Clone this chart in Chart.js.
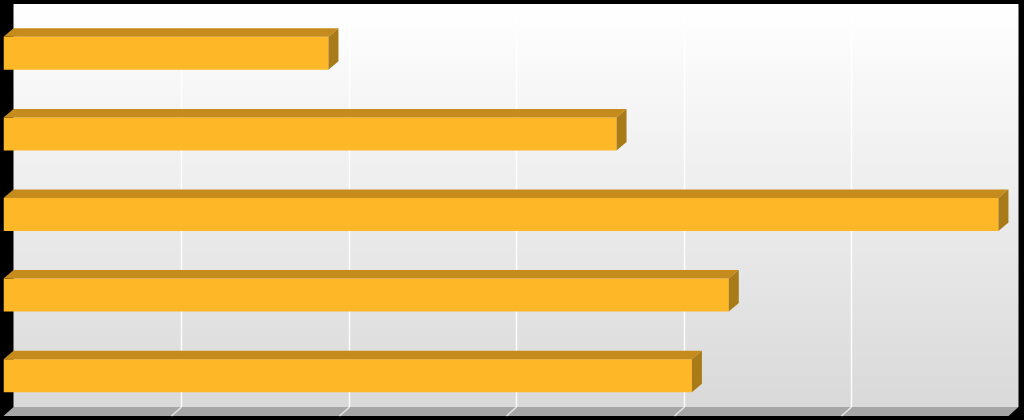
<!DOCTYPE html>
<html>
<head>
<meta charset="utf-8">
<script src="https://cdn.jsdelivr.net/npm/chart.js@4/dist/chart.umd.min.js"></script>
<style>
  html, body { margin: 0; padding: 0; background: #000; }
  canvas { display: block; }
</style>
</head>
<body>
<canvas id="barChart" width="1024" height="420"></canvas>
<script>
// ---- Data ----
const categories = ['1', '2', '3', '4', '5'];
const values = [1.94, 3.66, 5.94, 4.33, 4.11];
const xTicks = [0, 1, 2, 3, 4, 5, 6];

// ---- 3D look: depth offset of the back wall ----
const DX = 10, DY = 9;

const room3d = {
  id: 'room3d',
  beforeDraw(chart) {
    const { ctx, chartArea: a, scales: { x } } = chart;
    const w = a.right - a.left, h = a.bottom - a.top;
    ctx.save();

    // back wall
    const g = ctx.createLinearGradient(0, a.top - DY, 0, a.bottom - DY);
    g.addColorStop(0, '#ffffff');
    g.addColorStop(1, '#d9d9d9');
    ctx.fillStyle = g;
    ctx.fillRect(a.left + DX, a.top - DY, w, h);

    // floor
    ctx.fillStyle = '#a6a6a6';
    ctx.beginPath();
    ctx.moveTo(a.left, a.bottom);
    ctx.lineTo(a.right, a.bottom);
    ctx.lineTo(a.right + DX, a.bottom - DY);
    ctx.lineTo(a.left + DX, a.bottom - DY);
    ctx.closePath();
    ctx.fill();

    // gridlines on wall and floor
    xTicks.slice(1, -1).forEach(v => {
      const px = Math.round(x.getPixelForValue(v)) + 0.5;
      ctx.strokeStyle = 'rgba(255,255,255,0.9)';
      ctx.lineWidth = 1.5;
      ctx.beginPath();
      ctx.moveTo(px + DX, a.top - DY);
      ctx.lineTo(px + DX, a.bottom - DY);
      ctx.stroke();
      ctx.strokeStyle = '#e6e6e6';
      ctx.beginPath();
      ctx.moveTo(px + DX, a.bottom - DY);
      ctx.lineTo(px, a.bottom);
      ctx.stroke();
    });
    ctx.restore();
  },
  afterDatasetsDraw(chart) {
    const ctx = chart.ctx;
    const d = DY - 0.5;
    ctx.save();
    chart.getDatasetMeta(0).data.forEach(bar => {
      const top = bar.y - bar.height / 2, bot = bar.y + bar.height / 2;
      // top face
      ctx.fillStyle = '#c58b1d';
      ctx.beginPath();
      ctx.moveTo(bar.base, top);
      ctx.lineTo(bar.x, top);
      ctx.lineTo(bar.x + DX, top - d);
      ctx.lineTo(bar.base + DX, top - d);
      ctx.closePath();
      ctx.fill();
      // right face
      ctx.fillStyle = '#a97a18';
      ctx.beginPath();
      ctx.moveTo(bar.x, top);
      ctx.lineTo(bar.x + DX, top - d);
      ctx.lineTo(bar.x + DX, bot - d);
      ctx.lineTo(bar.x, bot);
      ctx.closePath();
      ctx.fill();
    });
    ctx.restore();
  }
};

new Chart(document.getElementById('barChart'), {
  type: 'bar',
  data: {
    labels: categories,
    datasets: [{
      data: values,
      backgroundColor: '#fdb727',
      borderWidth: 0,
      barPercentage: 0.41,
      categoryPercentage: 1
    }]
  },
  options: {
    indexAxis: 'y',
    responsive: false,
    animation: false,
    devicePixelRatio: 1,
    layout: { padding: { left: 3.5, right: 15.5, top: 13, bottom: 4 } },
    plugins: { legend: { display: false }, tooltip: { enabled: false } },
    scales: {
      x: { min: xTicks[0], max: xTicks[xTicks.length - 1], display: false },
      y: { display: false }
    }
  },
  plugins: [room3d]
});
</script>
</body>
</html>
